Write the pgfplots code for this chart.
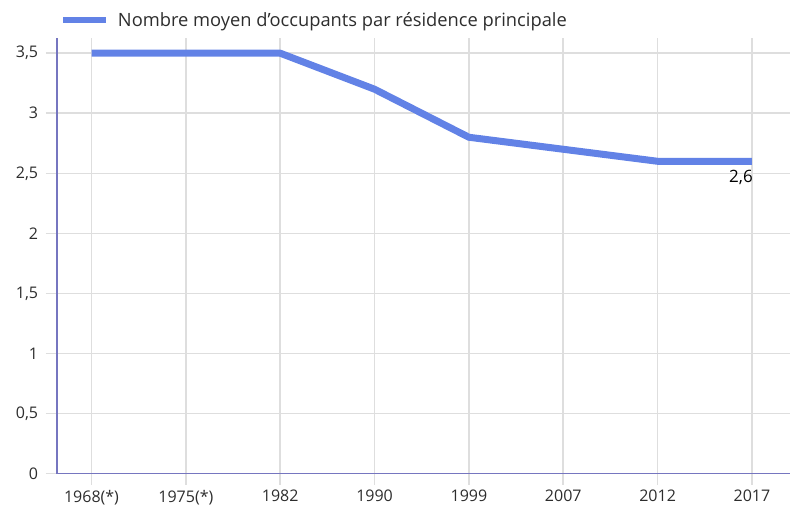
\documentclass[border=0pt]{standalone}
\usepackage{pgfplots}
\pgfplotsset{compat=1.18}
\usepackage{fontspec}
\setmainfont{Open Sans}
\definecolor{linecol}{RGB}{98,130,230}
\definecolor{axiscol}{RGB}{118,118,192}
\definecolor{gridcol}{RGB}{222,222,222}
\definecolor{txtcol}{RGB}{45,45,45}
\begin{document}
\begin{tikzpicture}[x=1pt,y=1pt]
\useasboundingbox (0,0) rectangle (790,512);
\begin{axis}[
  at={(60,32)}, anchor=south west,
  scale only axis, width=734pt, height=436pt,
  xmin=-0.37, xmax=7.41, ymin=0, ymax=3.63,
  axis x line*=bottom, axis y line*=left,
  axis line style={axiscol, line width=1.8pt, -},
  xtick={0,...,7},
  xticklabels={1968(*),1975(*),1982,1990,1999,2007,2012,2017},
  ytick={0,0.5,...,3.5},
  /pgf/number format/use comma,
  /pgf/number format/assume math mode=true,
  grid=major,
  major grid style={gridcol, line width=1.5pt},
  tick style={gridcol, line width=1.5pt},
  major tick length=11pt, tick align=outside,
  ticklabel style={font=\fontsize{16}{18}\selectfont, text=txtcol},
  xticklabel style={yshift=-2pt},
  yticklabel style={xshift=-4pt},
  legend style={at={(0.005,1.04)}, anchor=west, draw=none, fill=none,
    font=\fontsize{18.3}{20}\selectfont, text=txtcol, inner xsep=0pt},
  legend cell align=left,
  legend image code/.code={\draw[#1, line width=6pt] (0pt,0pt) -- (43pt,0pt); \path (49pt,0pt);},
  clip=false,
]
\addplot[linecol, line width=7pt, line join=round] coordinates {
  (0,3.5) (1,3.5) (2,3.5) (3,3.2) (4,2.8) (5,2.7) (6,2.6) (7,2.6)
};
\addlegendentry{Nombre moyen d'occupants par résidence principale}
\node[anchor=north east, inner sep=0pt, font=\fontsize{17}{19}\selectfont, text=black] at (axis cs:7,2.6) [xshift=1pt, yshift=-9pt] {2,6};
\end{axis}
\end{tikzpicture}
\end{document}
